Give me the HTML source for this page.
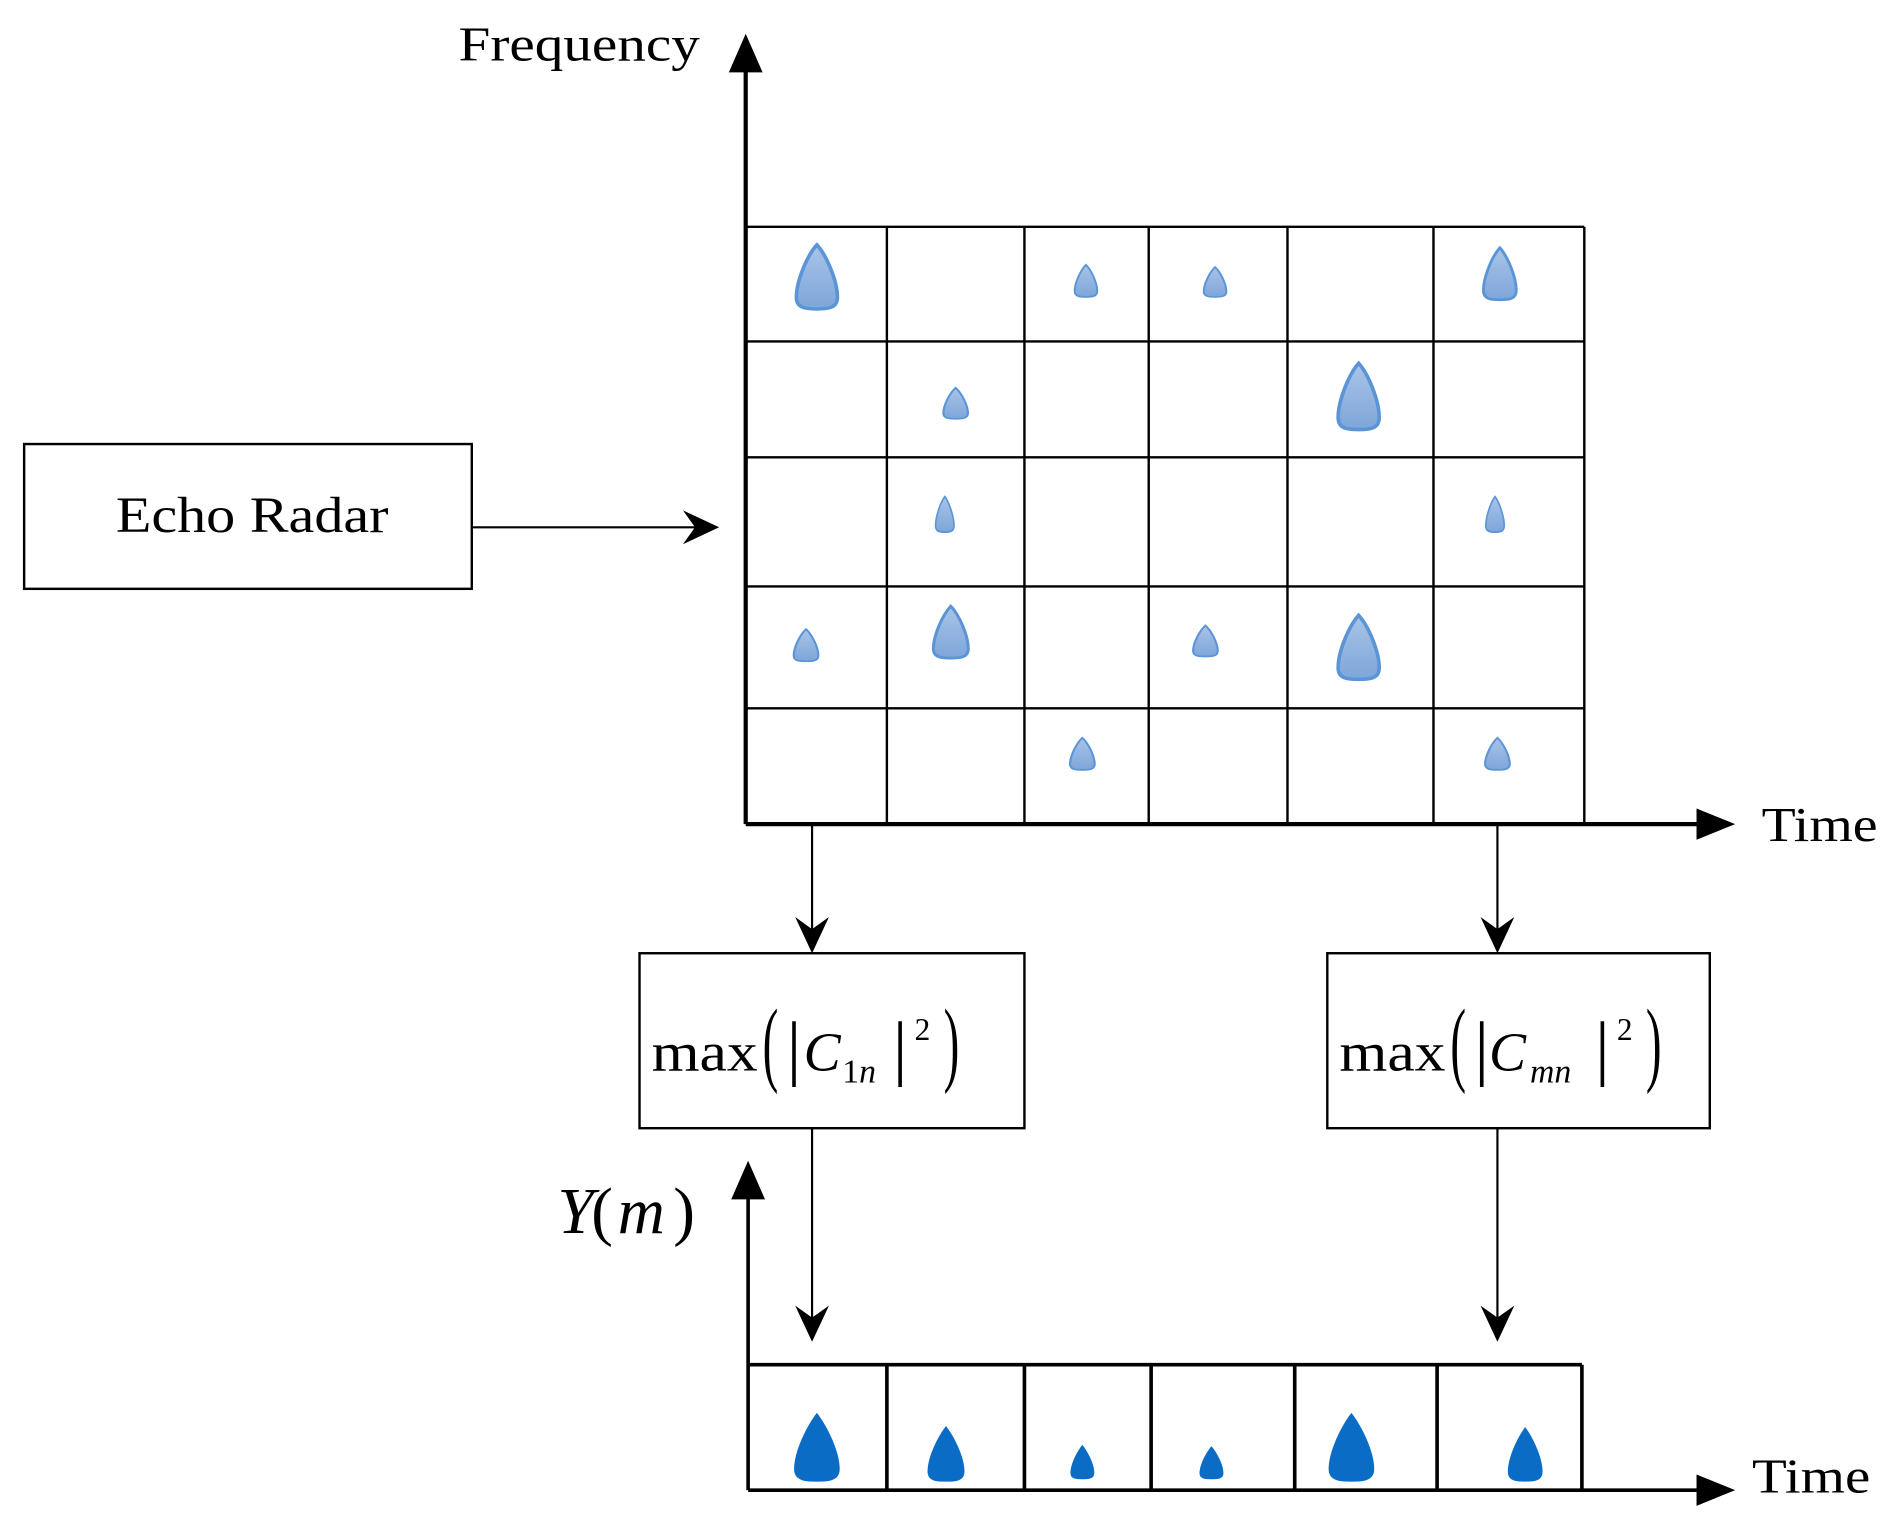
<!DOCTYPE html>
<html><head><meta charset="utf-8"><style>html,body{margin:0;padding:0;background:#fff}svg{display:block}</style></head>
<body>
<svg width="1892" height="1530" viewBox="0 0 1568 1268" preserveAspectRatio="none" xmlns="http://www.w3.org/2000/svg">
<defs>
<linearGradient id="g" x1="0" y1="0" x2="0" y2="1"><stop offset="0" stop-color="#a9c4e8"/><stop offset="1" stop-color="#7ea6da"/></linearGradient>
<symbol id="d" viewBox="0 0 40 60" preserveAspectRatio="none"><path d="M20,3 C28,12 37,34 37,48 C37,57 30,58 20,58 C10,58 3,57 3,48 C3,34 12,12 20,3Z" fill="url(#g)" stroke="#5b95d6" stroke-width="3"/></symbol>
<symbol id="b" viewBox="0 0 40 60" preserveAspectRatio="none"><path d="M20,1 C28,12 38,34 38,49 C38,59 30,60 20,60 C10,60 2,59 2,49 C2,34 12,12 20,1Z" fill="#0a6cc4"/></symbol>
</defs>
<g stroke="#000" fill="none">
<g stroke-width="2">
<line x1="735" y1="188" x2="735" y2="683"/><line x1="849" y1="188" x2="849" y2="683"/><line x1="952" y1="188" x2="952" y2="683"/><line x1="1067" y1="188" x2="1067" y2="683"/><line x1="1188" y1="188" x2="1188" y2="683"/><line x1="1313" y1="188" x2="1313" y2="683"/>
<line x1="618" y1="188" x2="1313" y2="188"/><line x1="618" y1="283" x2="1313" y2="283"/><line x1="618" y1="379" x2="1313" y2="379"/><line x1="618" y1="486" x2="1313" y2="486"/><line x1="618" y1="587" x2="1313" y2="587"/>
</g>
<g stroke-width="3.5">
<line x1="618" y1="683" x2="618" y2="40"/><line x1="618" y1="683" x2="1420" y2="683"/>
</g>
<path d="M604,60 L618,28 L632,60Z" fill="#000" stroke="none"/>
<path d="M1406,670 L1438,683 L1406,696Z" fill="#000" stroke="none"/>
<rect x="20" y="368" width="371" height="120" stroke-width="2"/>
<rect x="530" y="790" width="319" height="145" stroke-width="2"/>
<rect x="1100" y="790" width="317" height="145" stroke-width="2"/>
<g stroke-width="1.8">
<line x1="391" y1="437" x2="585" y2="437"/>
<line x1="673" y1="683" x2="673" y2="780"/>
<line x1="1241" y1="683" x2="1241" y2="780"/>
<line x1="673" y1="935" x2="673" y2="1100"/>
<line x1="1241" y1="935" x2="1241" y2="1100"/>
</g>
<g fill="#000" stroke="none">
<path d="M596,437 L566,423 L576,437 L566,451Z"/>
<path d="M673,790 L659,760 L673,770 L687,760Z"/>
<path d="M1241,790 L1227,760 L1241,770 L1255,760Z"/>
<path d="M673,1112 L659,1082 L673,1092 L687,1082Z"/>
<path d="M1241,1112 L1227,1082 L1241,1092 L1255,1082Z"/>
</g>
<g stroke-width="3">
<line x1="620" y1="1131" x2="1311" y2="1131"/>
<line x1="735" y1="1131" x2="735" y2="1235"/><line x1="849" y1="1131" x2="849" y2="1235"/><line x1="954" y1="1131" x2="954" y2="1235"/><line x1="1073" y1="1131" x2="1073" y2="1235"/><line x1="1191" y1="1131" x2="1191" y2="1235"/><line x1="1311" y1="1131" x2="1311" y2="1235"/>
<line x1="620" y1="1235" x2="620" y2="985"/><line x1="620" y1="1235" x2="1420" y2="1235"/>
</g>
<path d="M606,994 L620,962 L634,994Z" fill="#000" stroke="none"/>
<path d="M1406,1222 L1438,1235 L1406,1248Z" fill="#000" stroke="none"/>
</g>
<use href="#d" x="657" y="200" width="40" height="58"/>
<use href="#d" x="889" y="218" width="22" height="29"/>
<use href="#d" x="996" y="220" width="22" height="27"/>
<use href="#d" x="1227" y="203" width="32" height="47"/>
<use href="#d" x="780" y="320" width="24" height="28"/>
<use href="#d" x="1106" y="298" width="40" height="60"/>
<use href="#d" x="774" y="410" width="18" height="32"/>
<use href="#d" x="1230" y="410" width="18" height="32"/>
<use href="#d" x="656" y="520" width="24" height="29"/>
<use href="#d" x="771" y="500" width="34" height="47"/>
<use href="#d" x="987" y="517" width="24" height="28"/>
<use href="#d" x="1106" y="507" width="40" height="58"/>
<use href="#d" x="885" y="610" width="24" height="29"/>
<use href="#d" x="1229" y="610" width="24" height="29"/>
<use href="#b" x="656" y="1170" width="42" height="58"/>
<use href="#b" x="767" y="1181" width="34" height="47"/>
<use href="#b" x="886" y="1197" width="22" height="29"/>
<use href="#b" x="993" y="1198" width="22" height="28"/>
<use href="#b" x="1099" y="1170" width="42" height="58"/>
<use href="#b" x="1248" y="1182" width="32" height="46"/>
<g font-family="Liberation Serif, serif" fill="#000">
<text x="380" y="50" font-size="40" textLength="200" lengthAdjust="spacingAndGlyphs">Frequency</text>
<text x="96" y="441" font-size="42" textLength="226" lengthAdjust="spacingAndGlyphs">Echo Radar</text>
<text x="1460" y="697" font-size="40" textLength="96" lengthAdjust="spacingAndGlyphs">Time</text>
<text x="1452" y="1237" font-size="40" textLength="98" lengthAdjust="spacingAndGlyphs">Time</text>
<text x="540" y="887" font-size="46" textLength="88" lengthAdjust="spacingAndGlyphs">max</text>
<text x="632" y="890" font-size="78" transform="scale(0.5,1)" transform-origin="632 890">(</text>
<text x="652" y="888" font-size="60">|</text>
<text x="666" y="887" font-size="46" font-style="italic">C</text>
<text x="698" y="897" font-size="28">1<tspan font-style="italic">n</tspan></text>
<text x="740" y="888" font-size="60">|</text>
<text x="758" y="862" font-size="26">2</text>
<text x="782" y="890" font-size="78" transform="scale(0.5,1)" transform-origin="782 890">)</text>
<text x="1110" y="887" font-size="46" textLength="88" lengthAdjust="spacingAndGlyphs">max</text>
<text x="1202" y="890" font-size="78" transform="scale(0.5,1)" transform-origin="1202 890">(</text>
<text x="1222" y="888" font-size="60">|</text>
<text x="1234" y="887" font-size="46" font-style="italic">C</text>
<text x="1268" y="897" font-size="28" font-style="italic">mn</text>
<text x="1322" y="888" font-size="60">|</text>
<text x="1340" y="862" font-size="26">2</text>
<text x="1364" y="890" font-size="78" transform="scale(0.5,1)" transform-origin="1364 890">)</text>
<text x="462" y="1022" font-size="54" font-style="italic">Y</text>
<text x="490" y="1022" font-size="54">(</text>
<text x="512" y="1022" font-size="54" font-style="italic">m</text>
<text x="558" y="1022" font-size="54">)</text>
</g>
</svg>
</body></html>
